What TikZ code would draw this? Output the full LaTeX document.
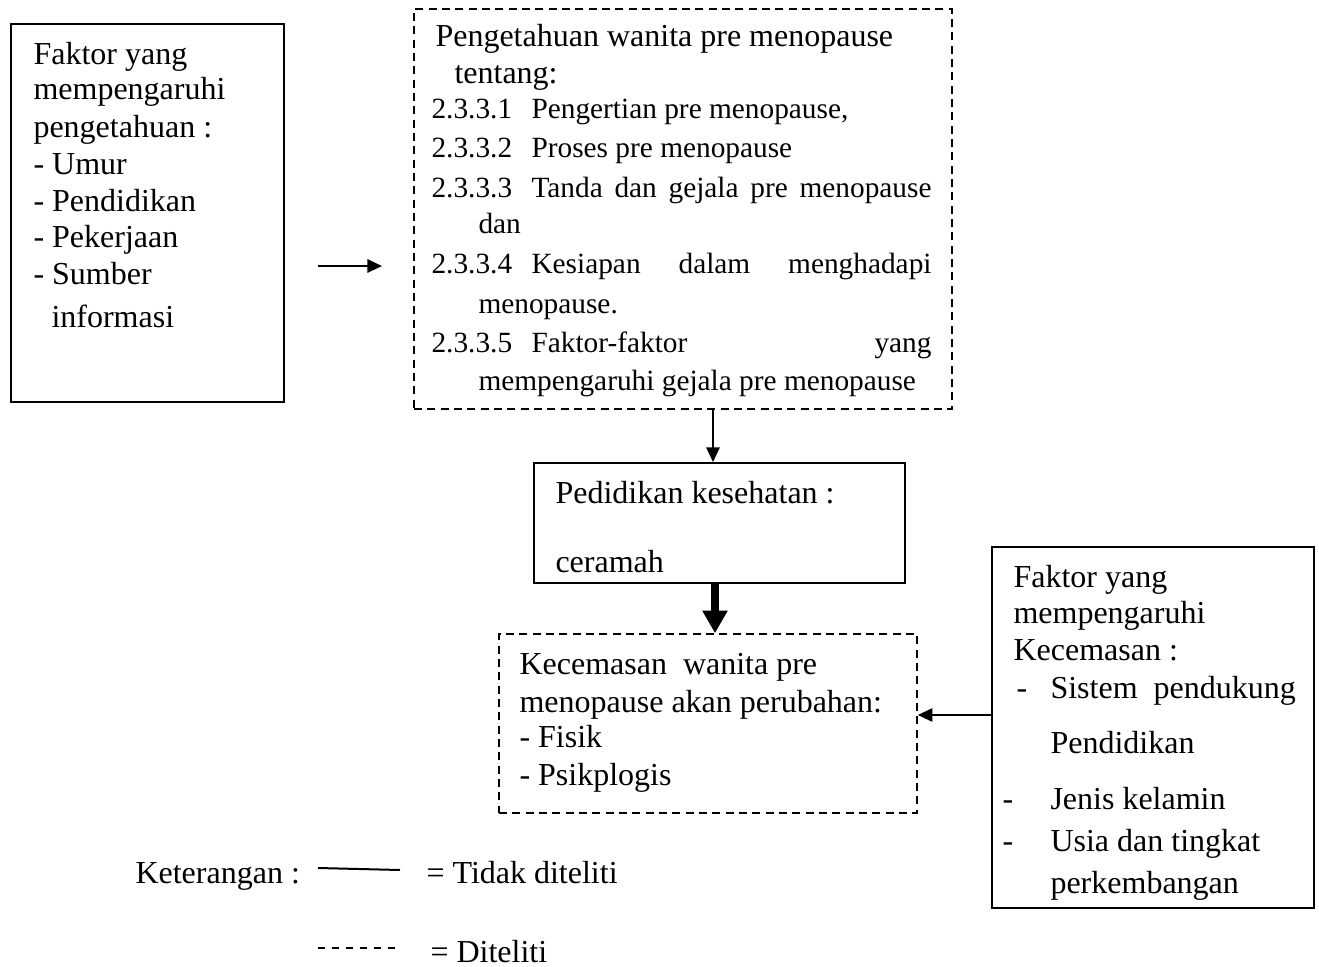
\documentclass[tikz,border=0pt]{standalone}
\usepackage{fontspec}
\setmainfont{Liberation Serif}
\usetikzlibrary{arrows.meta,fit,positioning,calc}

\begin{document}
\begin{tikzpicture}
[x=0.375pt,y=-0.375pt,
solidbox/.style={draw,line width=0.75pt,inner sep=0pt},
dashbox/.style={draw,line width=0.6pt,dash pattern=on 3pt off 2pt,inner sep=0pt},
txt/.style={anchor=base west,inner sep=0pt,font=\fontsize{12}{14}\selectfont},
itm/.style={anchor=base west,inner sep=0pt,font=\fontsize{11}{13}\selectfont},
arr/.style={draw,line width=0.75pt,-{Triangle[length=5.5pt,width=5pt]}},
fatarr/.style={draw,line width=3.2pt,-{Triangle[length=8.5pt,width=9pt]}}]
\useasboundingbox (0,0) rectangle (1319,967);

% boxes
\node[solidbox,fit={(11,24) (284,402)}] (faktorP) {};
\node[dashbox,fit={(414,9) (952,409)}] (pengetahuan) {};
\node[solidbox,fit={(534,463) (905,583)}] (pendidikan) {};
\node[dashbox,fit={(499,634) (917,813)}] (kecemasan) {};
\node[solidbox,fit={(992,547) (1314,908)}] (faktorK) {};

% left box
\node[txt] (p1) at (33,64) {Faktor yang};
\node[txt] (p2) at (33,100) {mempengaruhi};
\node[txt] (p3) at (33,137) {pengetahuan :};
\node[txt] (p4) at (33,174) {- Umur};
\node[txt] (p5) at (33,211) {- Pendidikan};
\node[txt] (p6) at (33,247) {- Pekerjaan};
\node[txt] (p7) at (33,284) {- Sumber};
\node[txt] (p8) at (51,327) {informasi};

% dashed top box
\node[txt] (t1) at (435,47) {Pengetahuan wanita pre menopause};
\node[txt] (t2) at (454,83) {tentang:};
\node[itm] (n1) at (431,118) {2.3.3.1};
\node[itm] (i1) at (531,118) {Pengertian pre menopause,};
\node[itm] (n2) at (431,157) {2.3.3.2};
\node[itm] (i2) at (531,157) {Proses pre menopause};
\node[itm] (n3) at (431,197) {2.3.3.3};
\node[itm] (i3) at (531,197) {\makebox[150pt][s]{Tanda dan gejala pre menopause}};
\node[itm] (i3b) at (478,233) {dan};
\node[itm] (n4) at (431,273) {2.3.3.4};
\node[itm] (i4) at (531,273) {\makebox[150pt][s]{Kesiapan dalam menghadapi}};
\node[itm] (i4b) at (478,313) {menopause.};
\node[itm] (n5) at (431,352) {2.3.3.5};
\node[itm] (i5) at (531,352) {\makebox[150pt][s]{Faktor-faktor yang}};
\node[itm] (i5b) at (478,390) {mempengaruhi gejala pre menopause};

% middle box
\node[txt] (d1) at (555,503) {Pedidikan kesehatan :};
\node[txt] (d2) at (555,572) {ceramah};

% dashed bottom box
\node[txt] (c1) at (519,674) {Kecemasan\ \ wanita pre};
\node[txt] (c2) at (519,712) {menopause akan perubahan:};
\node[txt] (c3) at (519,747) {- Fisik};
\node[txt] (c4) at (519,785) {- Psikplogis};

% right box
\node[txt] (k1) at (1013,587) {Faktor yang};
\node[txt] (k2) at (1013,623) {mempengaruhi};
\node[txt] (k3) at (1013,660) {Kecemasan :};
\node[txt] (k4d) at (1016,698) {-};
\node[txt] (k4) at (1050,698) {Sistem\ \ pendukung};
\node[txt] (k5) at (1050,753) {Pendidikan};
\node[txt] (k6d) at (1002,809) {-};
\node[txt] (k6) at (1050,809) {Jenis kelamin};
\node[txt] (k7d) at (1002,851) {-};
\node[txt] (k7) at (1050,851) {Usia dan tingkat};
\node[txt] (k8) at (1050,893) {perkembangan};

% connectors
\coordinate (a1) at (318,266);
\coordinate (a2) at (382,266);
\draw[arr] (a1) -- (a2);
\draw[arr] (pengetahuan.south -| 713,0) -- (pendidikan.north -| 713,0);
\draw[fatarr] (pendidikan.south -| 715,0) -- (kecemasan.north -| 715,0);
\draw[arr] (faktorK.west |- 0,715) -- (kecemasan.east |- 0,715);

% legend
\node[txt] (ket) at (135,883) {Keterangan :};
\draw[line width=0.75pt] (318,868) -- (400,870);
\node[txt] (tdk) at (426,883) {= Tidak diteliti};
\draw[line width=0.7pt,dash pattern=on 2.8pt off 2.45pt] (318,948) -- (396,948);
\node[txt] (dit) at (430,962) {= Diteliti};
\end{tikzpicture}
\end{document}
